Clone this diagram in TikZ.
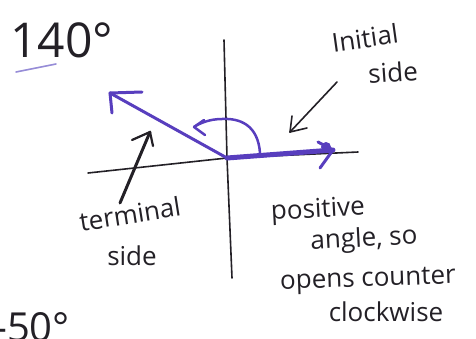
\documentclass[tikz,border=0pt]{standalone}
\usepackage{fontspec}
\setmainfont{Open Sans}
\definecolor{pen}{RGB}{35,32,38}
\definecolor{purp}{RGB}{88,62,190}
\definecolor{lpurp}{RGB}{150,140,215}
\begin{document}
\begin{tikzpicture}[x=1pt,y=-1pt,
  hand/.style={font=\fontsize{26}{30}\selectfont, text=pen, inner sep=0pt},
  axis/.style={draw=pen, line width=1.6pt, line cap=round},
  ray/.style={draw=purp, line width=3pt, line cap=round, line join=round},
  pointer/.style={draw=pen, line width=1.6pt, line cap=round, line join=round}]
\useasboundingbox (0,0) rectangle (476,338);
\clip (0,0) rectangle (476,338);
% axes
\coordinate (O) at (227,158);
\coordinate (ytop) at (224,40);
\coordinate (ybot) at (232,278);
\coordinate (xl) at (88,173);
\coordinate (xr) at (358,152);
\draw[axis] (ytop) -- (O) -- (ybot);
\draw[axis] (xl) -- (O) -- (xr);
% terminal side
\coordinate (T) at (110,93);
\draw[ray] (O) -- (T);
\draw[ray] (T) -- ++(32,-1);
\draw[ray] (T) -- ++(2,20);
% initial side
\coordinate (I) at (333,150);
\draw[ray, line width=5pt] (O) -- (I);
\draw[ray] (I) -- ++(-15,-8);
\draw[ray] (I) -- ++(-13,18);
\fill[purp] (326,147) circle (5);
% angle arc
\coordinate (A0) at (260,153);
\coordinate (A1) at (194,127);
\draw[ray, line width=2.5pt] (A0) .. controls (258,125) and (240,118) .. (222,119) .. controls (210,119) and (200,123) .. (A1);
\draw[ray, line width=2.5pt] (A1) -- ++(10,-7);
\draw[ray, line width=2.5pt] (A1) -- ++(11,8);
% pointer to terminal side
\coordinate (P0) at (120,203);
\coordinate (P1) at (150,132);
\draw[pointer, line width=3pt] (P0) -- (P1);
\draw[pointer, line width=2.2pt] (P1) -- ++(-18,8);
\draw[pointer, line width=2.2pt] (P1) -- ++(3,14);
% pointer to initial side
\coordinate (Q0) at (337,82);
\coordinate (Q1) at (290,132);
\draw[pointer] (Q0) -- (Q1);
\draw[pointer] (Q1) -- ++(2,-16);
\draw[pointer] (Q1) -- ++(17,-4);
% underline
\coordinate (U0) at (16,72);
\coordinate (U1) at (56,64);
\draw[lpurp, line width=1.6pt, line cap=round] (U0) -- (U1);
% texts
\node[hand, font=\fontsize{48}{52}\selectfont, anchor=base west] (deg) at (10,57) {140°};
\node[hand, rotate=8] (init) at (365,38) {Initial};
\node[hand, rotate=4] (side1) at (393,72) {side};
\node[hand, rotate=9] (term) at (130,214) {terminal};
\node[hand] (side2) at (132,256) {side};
\node[hand, rotate=3] (pos) at (318,211) {positive};
\node[hand, rotate=3] (ang) at (364,240) {angle, so};
\node[hand, rotate=2] (opens) at (368,281) {opens counter};
\node[hand] (cw) at (386,312) {clockwise};
\node[hand, font=\fontsize{40}{44}\selectfont, anchor=base west] (neg) at (-6,341) {-50°};
\end{tikzpicture}
\end{document}
